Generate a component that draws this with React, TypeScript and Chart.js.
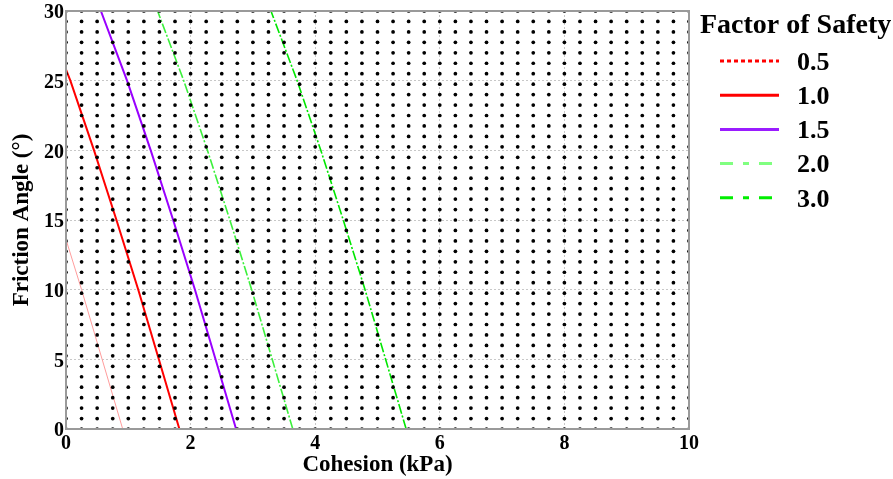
import React, { useEffect, useRef } from "react";
import { Chart, registerables } from "chart.js";

Chart.register(...registerables);

// ---- data ----
const factorLabels = ["0.5", "1.0", "1.5", "2.0", "3.0"];

// friction angle (deg) samples and the cohesion (kPa) of each FS curve
const fs05Phi = [0, 5, 10, 13.6];
const fs05C = [0.91, 0.58, 0.25, 0];
const fs10Phi = [0, 5, 10, 15, 20, 25, 25.8];
const fs10C = [1.82, 1.49, 1.16, 0.81, 0.45, 0.07, 0];
const fsPhi = [0, 5, 10, 15, 20, 25, 30];
const fs15C = [2.73, 2.4, 2.07, 1.72, 1.36, 0.98, 0.56];
const fs20C = [3.64, 3.31, 2.98, 2.63, 2.27, 1.89, 1.47];
const fs30C = [5.46, 5.13, 4.8, 4.45, 4.09, 3.71, 3.29];

// sampled parameter grid (black dots)
const cohesionGrid = [0, 0.25, 0.5, 0.75, 1, 1.25, 1.5, 1.75, 2, 2.25, 2.5, 2.75, 3, 3.25, 3.5, 3.75, 4, 4.25, 4.5, 4.75, 5, 5.25, 5.5, 5.75, 6, 6.25, 6.5, 6.75, 7, 7.25, 7.5, 7.75, 8, 8.25, 8.5, 8.75, 9, 9.25, 9.5, 9.75, 10];
const frictionGrid = [0, 0.75, 1.5, 2.25, 3, 3.75, 4.5, 5.25, 6, 6.75, 7.5, 8.25, 9, 9.75, 10.5, 11.25, 12, 12.75, 13.5, 14.25, 15, 15.75, 16.5, 17.25, 18, 18.75, 19.5, 20.25, 21, 21.75, 22.5, 23.25, 24, 24.75, 25.5, 26.25, 27, 27.75, 28.5, 29.25, 30];

const xTicks = [0, 2, 4, 6, 8, 10];
const yTicks = [0, 5, 10, 15, 20, 25, 30];

// ---- styles ----
const lineColors = ["#ff9c9c", "#ff0000", "#9900ff", "#3cf03c", "#00e600"];
const lineWidths = [1, 2, 2, 1.6, 1.6];
const lineDashes: number[][] = [[], [], [], [10, 2, 2, 2], [10, 2, 2, 2]];
const legendColors = ["#ff0000", "#ff0000", "#9a1cff", "#80ff80", "#00ee00"];
const legendDashes: number[][] = [[4, 3], [], [], [13, 10, 6, 10], [13, 10, 6, 10]];

const SERIF = '"Liberation Serif", "Times New Roman", serif';

function pts(cs: number[], ps: number[]) {
  return cs.map((c, i) => ({ x: c, y: ps[i] }));
}

const framePlugin = {
  id: "frame",
  afterDatasetsDraw(chart: any) {
    const { ctx, chartArea } = chart;
    ctx.save();
    ctx.strokeStyle = "#9a9a9a";
    ctx.lineWidth = 2;
    ctx.setLineDash([]);
    ctx.strokeRect(chartArea.left, chartArea.top, chartArea.right - chartArea.left, chartArea.bottom - chartArea.top);
    ctx.restore();
  },
};

const legendPlugin = {
  id: "fsLegend",
  afterDraw(chart: any) {
    const { ctx, chartArea } = chart;
    const x0 = chartArea.right + 11;
    const top = chartArea.top;
    ctx.save();
    ctx.fillStyle = "#000";
    ctx.textAlign = "left";
    ctx.textBaseline = "alphabetic";
    ctx.font = `bold 28px ${SERIF}`;
    ctx.fillText("Factor of Safety", x0, top + 22);
    factorLabels.forEach((lab, i) => {
      const y = top + 50 + i * 34.2;
      ctx.strokeStyle = legendColors[i];
      ctx.lineWidth = 3;
      ctx.lineCap = "butt";
      ctx.setLineDash(legendDashes[i]);
      ctx.beginPath();
      ctx.moveTo(x0 + 20, y);
      ctx.lineTo(x0 + 79, y);
      ctx.stroke();
      ctx.setLineDash([]);
      ctx.font = `bold 26px ${SERIF}`;
      ctx.textBaseline = "middle";
      ctx.fillText(lab, x0 + 97, y + 2);
    });
    ctx.restore();
  },
};

export default function App() {
  const ref = useRef<HTMLCanvasElement | null>(null);

  useEffect(() => {
    if (!ref.current) return;
    const dots: { x: number; y: number }[] = [];
    frictionGrid.forEach((p) => cohesionGrid.forEach((c) => dots.push({ x: c, y: p })));

    const curves = [
      pts(fs05C, fs05Phi),
      pts(fs10C, fs10Phi),
      pts(fs15C, fsPhi),
      pts(fs20C, fsPhi),
      pts(fs30C, fsPhi),
    ];

    const datasets: any[] = [
      {
        label: "grid",
        data: dots,
        showLine: false,
        pointRadius: 1.85,
        pointBorderWidth: 0,
        pointBackgroundColor: "#000",
        backgroundColor: "#000",
        order: 0,
        clip: 0,
      },
      ...curves.map((d, i) => ({
        label: factorLabels[i],
        data: d,
        showLine: true,
        borderColor: lineColors[i],
        borderWidth: lineWidths[i],
        borderDash: lineDashes[i],
        pointRadius: 0,
        fill: false,
        order: 1,
        clip: 0,
      })),
    ];

    const tickFont = { family: SERIF, size: 20, weight: "bold" as const };
    const titleFont = { family: SERIF, size: 23, weight: "bold" as const };

    const chart = new Chart(ref.current, {
      type: "scatter",
      data: { datasets },
      plugins: [framePlugin, legendPlugin],
      options: {
        animation: false,
        responsive: false,
        devicePixelRatio: 1,
        events: [],
        layout: { padding: { top: 11, right: 204, left: 0, bottom: 0 } },
        plugins: { legend: { display: false }, tooltip: { enabled: false } },
        scales: {
          x: {
            type: "linear",
            min: 0,
            max: 10,
            afterBuildTicks: (s: any) => {
              s.ticks = xTicks.map((v) => ({ value: v }));
            },
            afterFit: (s: any) => {
              s.height = 50;
              s.paddingLeft = 0;
              s.paddingRight = 0;
            },
            ticks: { font: tickFont, color: "#000", padding: 3, maxRotation: 0, autoSkip: false },
            grid: {
              color: (c: any) => (c.tick && (c.tick.value === 0 || c.tick.value === 10) ? "rgba(0,0,0,0)" : "#c8c8c8"),
              lineWidth: 1,
              drawTicks: false,
            },
            border: { display: false, dash: [2, 2] },
            title: { display: true, text: "Cohesion (kPa)", font: titleFont, color: "#000", padding: { top: 0, bottom: 0 } },
          },
          y: {
            type: "linear",
            min: 0,
            max: 30,
            afterBuildTicks: (s: any) => {
              s.ticks = yTicks.map((v) => ({ value: v }));
            },
            afterFit: (s: any) => {
              s.width = 66;
              s.paddingTop = 0;
              s.paddingBottom = 0;
            },
            ticks: { font: tickFont, color: "#000", padding: 2, labelOffset: 2, autoSkip: false },
            grid: {
              color: (c: any) => (c.tick && (c.tick.value === 0 || c.tick.value === 30) ? "rgba(0,0,0,0)" : "#c8c8c8"),
              lineWidth: 1,
              drawTicks: false,
            },
            border: { display: false, dash: [2, 2] },
            title: { display: true, text: "Friction Angle (°)", font: titleFont, color: "#000", padding: { top: 8, bottom: 0 } },
          },
        },
      } as any,
    });
    return () => chart.destroy();
  }, []);

  return (
    <div style={{ position: "absolute", left: 0, top: 0, width: 893, height: 479, background: "#fff" }}>
      <canvas ref={ref} width={893} height={479} style={{ display: "block", width: 893, height: 479 }} />
    </div>
  );
}
